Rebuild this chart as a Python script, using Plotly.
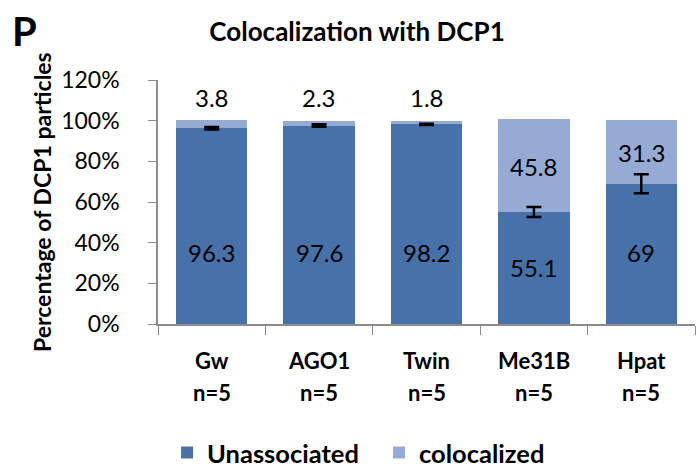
import plotly.graph_objects as go

categories = ["Gw", "AGO1", "Twin", "Me31B", "Hpat"]
n_labels = ["n=5", "n=5", "n=5", "n=5", "n=5"]
unassociated = [96.3, 97.6, 98.2, 55.1, 69.0]
colocalized = [3.8, 2.3, 1.8, 45.8, 31.3]
unassoc_err = [0.6, 0.6, 0.3, 2.5, 4.7]
y_ticks = [0, 20, 40, 60, 80, 100, 120]

# label placement (styling)
unassoc_label_y = [35, 35, 35, 27.7, 35]
coloc_label_y = [111.6, 111.6, 111.6, 77.5, 84.4]

FONT = "Lato"
DARK = "#4671A9"
LIGHT = "#95ABD4"

fig = go.Figure()
fig.add_trace(go.Bar(
    x=categories, y=unassociated, name="<b>Unassociated</b>", marker_color=DARK,
    marker_line_width=0,
))
fig.add_trace(go.Bar(
    x=categories, y=colocalized, name="<b>colocalized</b>", marker_color=LIGHT,
    marker_line_width=0,
))
# error bars drawn on top of the stacked bars
fig.add_trace(go.Scatter(
    x=categories, y=unassociated, mode="markers", showlegend=False,
    marker=dict(size=1, opacity=0), hoverinfo="skip",
    error_y=dict(type="data", array=unassoc_err, color="black", thickness=2.5, width=7.5),
))

for c, v, yy in zip(categories, unassociated, unassoc_label_y):
    fig.add_annotation(x=c, y=yy, text=f"{v:g}", showarrow=False,
                       font=dict(family=FONT, size=24, color="black"))
for c, v, yy in zip(categories, colocalized, coloc_label_y):
    fig.add_annotation(x=c, y=yy, text=f"{v:g}", showarrow=False,
                       font=dict(family=FONT, size=24, color="black"))

# category labels (two lines)
for c, n in zip(categories, n_labels):
    fig.add_annotation(x=c, xref="x", yref="paper", y=0, yshift=-36, yanchor="middle",
                       text=f"<b>{c}</b>", showarrow=False,
                       font=dict(family=FONT, size=22, color="black"))
    fig.add_annotation(x=c, xref="x", yref="paper", y=0, yshift=-68, yanchor="middle",
                       text=f"<b>{n}</b>", showarrow=False,
                       font=dict(family=FONT, size=22, color="black"))

fig.add_annotation(xref="paper", yref="paper", x=0, y=0.5, xshift=-116,
                   xanchor="center", yanchor="middle",
                   text="<b>Percentage of DCP1 particles</b>", textangle=-90,
                   showarrow=False, font=dict(family=FONT, size=23, color="black"))
fig.add_annotation(xref="paper", yref="paper", x=0, y=1, xshift=-148, yshift=49,
                   xanchor="left", yanchor="middle",
                   text="<b>P</b>", showarrow=False,
                   font=dict(family=FONT, size=40, color="black"))

fig.update_layout(
    width=696, height=467,
    margin=dict(l=158, r=1, t=80, b=143, autoexpand=False),
    paper_bgcolor="white", plot_bgcolor="white",
    barmode="stack", bargap=0.335,
    title=dict(text="<b>Colocalization with DCP1</b>", x=0.513, xanchor="center",
               xref="container", yref="container",
               y=0.932, yanchor="middle",
               font=dict(family=FONT, size=26, color="black")),
    showlegend=True,
    legend=dict(orientation="h", xref="container", yref="container",
                x=0.24, xanchor="left", y=0.03, yanchor="middle",
                font=dict(family=FONT, size=25.5, color="black"),
                itemwidth=30, traceorder="normal",
                entrywidth=167, entrywidthmode="pixels",
                bgcolor="rgba(0,0,0,0)"),
    font=dict(family=FONT, color="black"),
    hovermode=False,
)
fig.update_xaxes(
    showline=True, linecolor="#8c8c8c", linewidth=1.5,
    ticks="outside", ticklen=9, tickcolor="#8c8c8c", tickson="boundaries",
    showticklabels=False, showgrid=False,
)
fig.update_yaxes(
    range=[0, 120], tickvals=y_ticks, ticktext=[f"{t}%" for t in y_ticks],
    showline=True, linecolor="#8c8c8c", linewidth=1.5,
    ticks="outside", ticklen=8, tickcolor="#8c8c8c", ticklabelstandoff=24,
    tickfont=dict(family=FONT, size=23, color="black"),
    showgrid=False, zeroline=False,
)
fig.write_html("out.html", config={"displayModeBar": False},
               post_script="document.body.style.margin='0';")
